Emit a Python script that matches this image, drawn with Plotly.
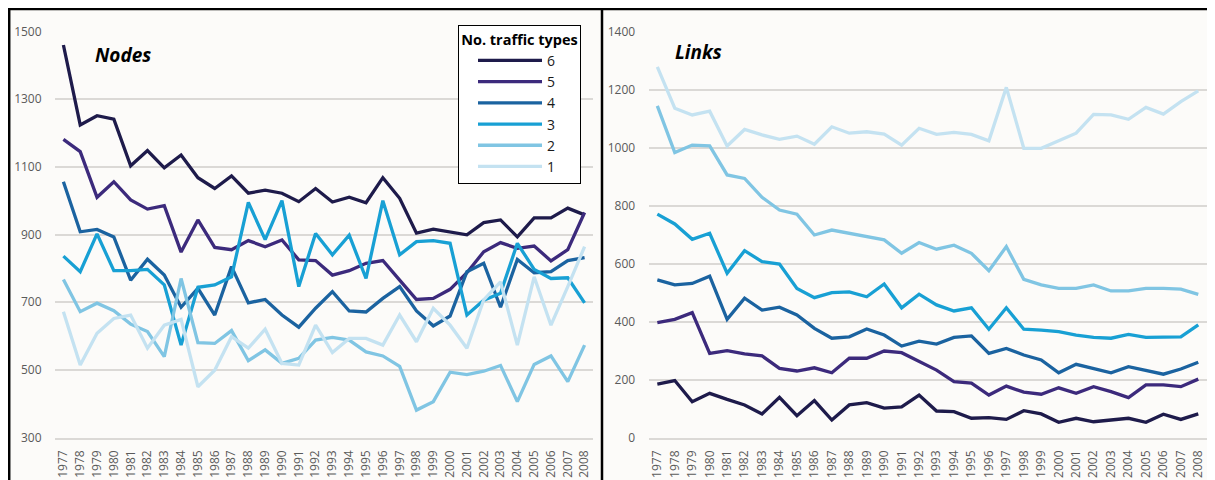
import plotly.graph_objects as go

years = list(range(1977, 2009))

# Nodes, per number of traffic types
nodes_6 = [1460, 1224, 1251, 1241, 1103, 1148, 1097, 1135, 1068, 1036, 1073, 1022, 1031, 1022, 997, 1036,
           996, 1010, 994, 1068, 1007, 904, 916, 907, 899, 935, 943, 893, 949, 949, 978, 958]
nodes_5 = [1181, 1145, 1010, 1056, 1002, 975, 985, 848, 943, 862, 855, 882, 864, 884, 825, 823,
           780, 793, 815, 823, 765, 708, 711, 738, 787, 849, 876, 859, 866, 822, 855, 965]
nodes_4 = [1056, 908, 915, 893, 765, 827, 780, 685, 741, 662, 805, 698, 708, 662, 626, 682,
           731, 674, 671, 711, 746, 674, 630, 659, 790, 815, 685, 826, 787, 790, 823, 832]
nodes_3 = [836, 790, 902, 793, 793, 797, 751, 573, 744, 751, 775, 995, 885, 1000, 746, 903,
           840, 898, 770, 1000, 840, 879, 882, 874, 662, 706, 726, 874, 797, 770, 772, 698]
nodes_2 = [767, 672, 697, 675, 635, 613, 539, 770, 580, 578, 616, 527, 559, 519, 534, 588,
           596, 588, 553, 541, 510, 381, 406, 493, 486, 496, 513, 406, 516, 541, 465, 573]
nodes_1 = [672, 514, 608, 652, 662, 564, 632, 649, 450, 499, 598, 564, 620, 519, 514, 632,
           551, 593, 593, 573, 662, 583, 682, 632, 564, 707, 760, 573, 775, 632, 746, 864]

# Links, per number of traffic types
links_6 = [185, 197, 124, 153, 132, 113, 82, 139, 76, 128, 61, 113, 121, 102, 106, 147,
           92, 90, 67, 69, 63, 93, 82, 53, 67, 55, 61, 67, 53, 81, 63, 82]
links_5 = [397, 408, 431, 291, 300, 289, 282, 239, 230, 241, 224, 274, 274, 299, 293, 262,
           233, 193, 188, 147, 178, 157, 150, 172, 153, 176, 159, 138, 182, 182, 176, 202]
links_4 = [544, 527, 532, 557, 408, 481, 440, 450, 423, 377, 343, 348, 375, 354, 316, 333,
           323, 346, 351, 291, 308, 285, 268, 224, 253, 239, 224, 245, 231, 219, 237, 260]
links_3 = [771, 737, 684, 705, 567, 645, 607, 599, 515, 483, 500, 503, 486, 530, 448, 495,
           458, 437, 448, 374, 448, 374, 371, 366, 354, 346, 343, 356, 346, 348, 348, 389]
links_2 = [1144, 983, 1009, 1006, 906, 894, 829, 785, 771, 699, 716, 705, 693, 682, 636, 673,
           650, 664, 636, 576, 659, 546, 527, 515, 515, 527, 506, 506, 515, 515, 512, 494]
links_1 = [1279, 1136, 1113, 1126, 1006, 1063, 1044, 1029, 1040, 1012, 1072, 1050, 1055, 1047, 1009, 1067,
           1046, 1053, 1046, 1024, 1208, 998, 998, 1024, 1050, 1115, 1113, 1098, 1139, 1116, 1159, 1196]

type_labels = ['6', '5', '4', '3', '2', '1']
colors = ['#1e1b4b', '#3c2a7c', '#1b63a0', '#18a0d4', '#80c5e3', '#c4e2f1']

nodes = [nodes_6, nodes_5, nodes_4, nodes_3, nodes_2, nodes_1]
links = [links_6, links_5, links_4, links_3, links_2, links_1]

# the page puts the figure 8px in from the top-left, so the figure is
# a little smaller and pixel positions below are counted from the window corner
OFF = 8
W, H = 1215 - OFF, 480 - OFF


def px(x):
    return (x - OFF) / W


def py(y):
    return 1 - (y - OFF) / H


fig = go.Figure()
for i in range(6):
    fig.add_trace(go.Scatter(x=years, y=nodes[i], mode='lines', name=type_labels[i],
                             line=dict(color=colors[i], width=3.3), xaxis='x', yaxis='y'))
for i in range(6):
    fig.add_trace(go.Scatter(x=years, y=links[i], mode='lines', name=type_labels[i],
                             line=dict(color=colors[i], width=3.3), xaxis='x2', yaxis='y2',
                             showlegend=False))

grid = '#dbd9d6'
tickfont = dict(family='Open Sans', size=12, color='#5a5a5a')

xcommon = dict(tickmode='array', tickvals=years, ticktext=[str(y) for y in years],
               tickangle=-90, tickfont=tickfont, showgrid=False, zeroline=False,
               showline=True, linecolor=grid, linewidth=2, automargin=False,
               ticks='outside', ticklen=6, tickcolor='rgba(0,0,0,0)')
ycommon = dict(tickfont=tickfont, showgrid=True, gridcolor=grid, gridwidth=2, automargin=False,
               zeroline=False, ticks='outside', ticklen=10, tickcolor='rgba(0,0,0,0)')

fig.update_layout(
    template='none',
    width=W, height=H,
    margin=dict(l=0, r=0, t=0, b=0, autoexpand=False),
    paper_bgcolor='#fcfbf9',
    plot_bgcolor='rgba(0,0,0,0)',
    font=dict(family='Open Sans', color='#1a1a1a'),
    xaxis=dict(domain=[px(55), px(593)], range=[1976.5, 2008.5], anchor='y', **xcommon),
    yaxis=dict(domain=[py(437.5), py(31.5)], range=[300, 1500], tick0=300, dtick=200, anchor='x', **ycommon),
    xaxis2=dict(domain=[px(648.6), px(1207)], range=[1976.5, 2008.5], anchor='y2', **xcommon),
    yaxis2=dict(domain=[py(437.7), py(31.7)], range=[0, 1400], tick0=0, dtick=200, anchor='x2', **ycommon),
    legend=dict(
        x=px(458), y=py(25), xanchor='left', yanchor='top',
        bgcolor='white', bordercolor='black', borderwidth=1,
        title=dict(text='<b>No. traffic types</b>', font=dict(size=14.5, color='black'), side='top center'),
        font=dict(size=14, color='#1a1a1a'),
        itemwidth=64, tracegroupgap=0, indentation=14,
    ),
    annotations=[
        dict(text='<b><i>Nodes</i></b>', x=px(93), y=py(55), xref='paper', yref='paper',
             xanchor='left', yanchor='middle', showarrow=False, font=dict(size=19, color='black')),
        dict(text='<b><i>Links</i></b>', x=px(673), y=py(52), xref='paper', yref='paper',
             xanchor='left', yanchor='middle', showarrow=False, font=dict(size=19, color='black')),
    ],
    shapes=[
        dict(type='line', xref='paper', yref='paper', x0=0, x1=px(1209), y0=py(9), y1=py(9),
             line=dict(color='black', width=2.5)),
        dict(type='line', xref='paper', yref='paper', x0=0.001, x1=0.001, y0=-0.05, y1=py(9),
             line=dict(color='black', width=2.5)),
        dict(type='line', xref='paper', yref='paper', x0=px(602), x1=px(602), y0=-0.05, y1=py(9),
             line=dict(color='black', width=2.5)),
        dict(type='line', xref='paper', yref='paper', x0=px(1209), x1=px(1209), y0=-0.05, y1=py(9),
             line=dict(color='#888888', width=1)),
    ],
)

fig.write_html('out.html')
